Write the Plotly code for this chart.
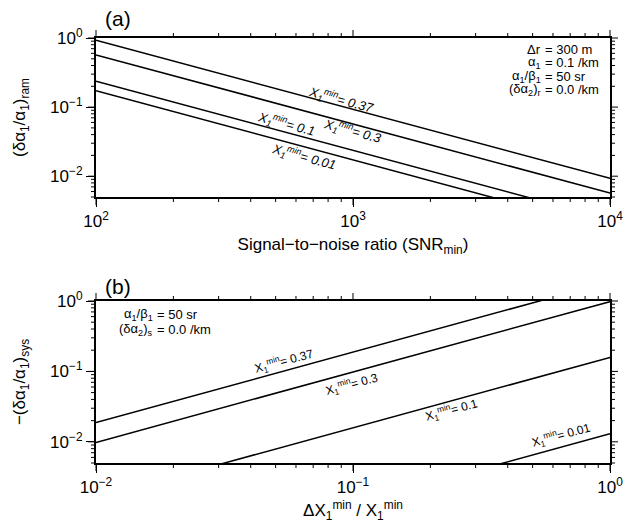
import plotly.graph_objects as go
import math

# ---------------- data ----------------
# Panel (a): random error vs SNR (straight lines in log-log, endpoints)
snr = [100, 10000]
ram_037 = [0.93, 0.0093]
ram_030 = [0.57, 0.0057]
ram_010 = [0.237, 0.00237]
ram_001 = [0.172, 0.00172]

# Panel (b): systematic error vs dX/X
dx_ratio = [0.01, 1.0]
sys_037 = [0.0188, 1.88]
sys_030 = [0.0098, 0.98]
sys_010 = [0.00158, 0.158]
sys_001 = [0.00013, 0.013]

x1_labels = ["0.37", "0.3", "0.1", "0.01"]

xa_ticks = [100, 1000, 10000]
xa_text = ["10<sup>2</sup>", "10<sup>3</sup>", "10<sup>4</sup>"]
xb_ticks = [0.01, 0.1, 1]
xb_text = ["10<sup>−2</sup>", "10<sup>−1</sup>", "10<sup>0</sup>"]
y_ticks = [1, 0.1, 0.01]
y_text = ["10<sup>0</sup>", "10<sup>−1</sup>", "10<sup>−2</sup>"]

info_a_left = ["Δr", "α<sub>1</sub>", "α<sub>1</sub>/β<sub>1</sub>", "(δα<sub>2</sub>)<sub>r</sub>"]
info_a_right = ["= 300 m", "= 0.1 /km", "= 50 sr", "= 0.0 /km"]
info_b_left = ["α<sub>1</sub>/β<sub>1</sub>", "(δα<sub>2</sub>)<sub>s</sub>"]
info_b_right = ["= 50 sr", "= 0.0 /km"]

FONT = "Liberation Sans, Arial, Helvetica, sans-serif"
W, H = 624, 527
X_L, X_R = 96, 610
A_TOP, A_BOT = 38, 197
B_TOP, B_BOT = 301, 463

ylo = math.log10(0.005)
XA_RNG = [2, 4]
XB_RNG = [-2, 0]
Y_RNG = [ylo, 0]

dom_x = [X_L / W, X_R / W]
dom_a = [1 - A_BOT / H, 1 - A_TOP / H]
dom_b = [1 - B_BOT / H, 1 - B_TOP / H]

fig = go.Figure()

for ys in [ram_037, ram_030, ram_010, ram_001]:
    fig.add_trace(go.Scatter(x=snr, y=ys, mode="lines", line=dict(color="black", width=1.5),
                             xaxis="x", yaxis="y", showlegend=False, hoverinfo="skip"))
for ys in [sys_037, sys_030, sys_010, sys_001]:
    fig.add_trace(go.Scatter(x=dx_ratio, y=ys, mode="lines", line=dict(color="black", width=1.5),
                             xaxis="x2", yaxis="y2", showlegend=False, hoverinfo="skip"))


def minor_vals(lo, hi):
    vals = []
    for e in range(lo, hi):
        for m in range(2, 10):
            vals.append(m * 10 ** e)
    return vals


# ---- tick marks (outside, all four sides) as one trace on a full-figure pixel overlay ----
MAJ, MIN = 8, 5
tx, ty = [], []


def seg(x0, y0, x1, y1):
    tx.extend([x0, x1, None])
    ty.extend([y0, y1, None])


def x_ticks(rng, vals, top, bot, ln):
    for v in vals:
        p = X_L + (math.log10(v) - rng[0]) / (rng[1] - rng[0]) * (X_R - X_L)
        seg(p, bot, p, bot + ln)
        seg(p, top, p, top - ln)


def y_ticks_px(vals, top, bot, ln):
    for v in vals:
        lv = math.log10(v)
        if lv < Y_RNG[0] - 1e-9:
            continue
        p = bot - (lv - Y_RNG[0]) / (Y_RNG[1] - Y_RNG[0]) * (bot - top)
        seg(X_L, p, X_L - ln, p)
        seg(X_R, p, X_R + ln, p)

x_ticks(XA_RNG, xa_ticks, A_TOP, A_BOT, MAJ)
x_ticks(XA_RNG, minor_vals(2, 4), A_TOP, A_BOT, MIN)
y_ticks_px(y_ticks, A_TOP, A_BOT, MAJ)
y_ticks_px(minor_vals(-3, 0), A_TOP, A_BOT, MIN)
x_ticks(XB_RNG, xb_ticks, B_TOP, B_BOT, MAJ)
x_ticks(XB_RNG, minor_vals(-2, 0), B_TOP, B_BOT, MIN)
y_ticks_px(y_ticks, B_TOP, B_BOT, MAJ)
y_ticks_px(minor_vals(-3, 0), B_TOP, B_BOT, MIN)

fig.add_trace(go.Scatter(x=tx, y=ty, mode="lines", line=dict(color="black", width=1),
                         xaxis="x3", yaxis="y3", showlegend=False, hoverinfo="skip",
                         connectgaps=False))


def main_axis(tickvals, ticktext, rng, domain, anchor):
    return dict(
        type="log", range=rng, tickmode="array", tickvals=tickvals, ticktext=ticktext,
        ticks="outside", ticklen=8, tickwidth=1, tickcolor="black",
        showline=True, linewidth=2, linecolor="black", mirror=True,
        showgrid=False, zeroline=False, automargin=False,
        tickfont=dict(family=FONT, size=17, color="black"),
        domain=domain, anchor=anchor,
    )

title_font = dict(family=FONT, size=17, color="black")

xa = main_axis(xa_ticks, xa_text, XA_RNG, dom_x, "y")
xa["title"] = dict(text="Signal−to−noise ratio (SNR<sub>min</sub>)", font=title_font, standoff=8)
ya = main_axis(y_ticks, y_text, Y_RNG, dom_a, "x")
ya["title"] = dict(text="(δα<sub>1</sub>/α<sub>1</sub>)<sub>ram</sub>", font=title_font, standoff=20)
xb = main_axis(xb_ticks, xb_text, XB_RNG, dom_x, "y2")
xb["title"] = dict(text="ΔX<sub>1</sub><sup>min</sup> / X<sub>1</sub><sup>min</sup>", font=title_font, standoff=8)
yb = main_axis(y_ticks, y_text, Y_RNG, dom_b, "x2")
yb["title"] = dict(text="−(δα<sub>1</sub>/α<sub>1</sub>)<sub>sys</sub>", font=title_font, standoff=20)

overlay_x = dict(domain=[0, 1], range=[0, W], visible=False, anchor="y3", fixedrange=True)
overlay_y = dict(domain=[0, 1], range=[H, 0], visible=False, anchor="x3", fixedrange=True)

fig.update_layout(
    template="none",
    width=W, height=H,
    margin=dict(l=0, r=0, t=0, b=0, autoexpand=False),
    paper_bgcolor="white", plot_bgcolor="rgba(0,0,0,0)",
    font=dict(family=FONT, color="black"),
    xaxis=xa, yaxis=ya, xaxis2=xb, yaxis2=yb,
    xaxis3=overlay_x, yaxis3=overlay_y,
    showlegend=False,
)

ang = math.degrees(math.atan((A_BOT - A_TOP) / 2.301 / ((X_R - X_L) / 2)))

# curve labels panel (a): (log10 x, log10 y)
pos_a = [(2.955, -0.89), (2.997, -1.345), (2.741, -1.245), (2.811, -1.719)]
for lab, (lx, ly) in zip(x1_labels, pos_a):
    fig.add_annotation(x=lx, y=ly, xref="x", yref="y", showarrow=False, textangle=ang,
                       xanchor="center", yanchor="middle",
                       text=f"<i>X<sub>1</sub><sup>min</sup>= {lab}</i>",
                       font=dict(family=FONT, size=13, color="black"))

pos_b = [(-1.267, -0.856), (-1.003, -1.18), (-0.616, -1.554), (-0.189, -1.90)]
for lab, (lx, ly) in zip(x1_labels, pos_b):
    fig.add_annotation(x=lx, y=ly, xref="x2", yref="y2", showarrow=False, textangle=-ang,
                       xanchor="center", yanchor="middle",
                       text=f"X<sub>1</sub><sup>min</sup>= {lab}",
                       font=dict(family=FONT, size=12, color="black"))


def px_x(p):
    return p / W


def px_y(p):
    return 1 - p / H

for tl, tr, yy in zip(info_a_left, info_a_right, [50, 63, 76.5, 89.5]):
    fig.add_annotation(x=px_x(543), y=px_y(yy), xref="paper", yref="paper", showarrow=False,
                       xanchor="right", yanchor="middle", text=tl,
                       font=dict(family=FONT, size=13, color="black"))
    fig.add_annotation(x=px_x(543), y=px_y(yy), xref="paper", yref="paper", showarrow=False,
                       xanchor="left", yanchor="middle", text=tr,
                       font=dict(family=FONT, size=13, color="black"))

for tl, tr, yy in zip(info_b_left, info_b_right, [314, 329]):
    fig.add_annotation(x=px_x(155), y=px_y(yy), xref="paper", yref="paper", showarrow=False,
                       xanchor="right", yanchor="middle", text=tl,
                       font=dict(family=FONT, size=13, color="black"))
    fig.add_annotation(x=px_x(155), y=px_y(yy), xref="paper", yref="paper", showarrow=False,
                       xanchor="left", yanchor="middle", text=tr,
                       font=dict(family=FONT, size=13, color="black"))

fig.add_annotation(x=px_x(118), y=px_y(18), xref="paper", yref="paper", showarrow=False,
                   xanchor="center", yanchor="middle",
                   text="(a)", font=dict(family=FONT, size=21, color="black"))
fig.add_annotation(x=px_x(118), y=px_y(286), xref="paper", yref="paper", showarrow=False,
                   xanchor="center", yanchor="middle",
                   text="(b)", font=dict(family=FONT, size=21, color="black"))

fig.write_html("out.html")
